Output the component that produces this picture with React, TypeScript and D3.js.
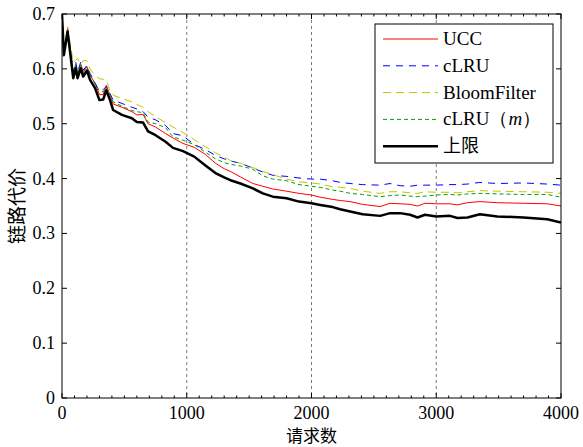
import React from 'react';
import * as d3 from 'd3';

// request counts where the curves were sampled
const requests = [
  0, 15, 45, 90, 110, 125, 150, 170, 200, 225, 265, 300, 330, 355, 385, 410, 480, 560, 600, 650,
  690, 750, 830, 890, 970, 1060, 1150, 1230, 1300, 1350, 1430, 1530, 1610, 1690, 1800, 1900, 2000,
  2070, 2170, 2230, 2310, 2410, 2550, 2630, 2710, 2790, 2850, 2910, 3000, 3110, 3170, 3250, 3350,
  3490, 3700, 3890, 4000,
];

const ucc = [
  0.70, 0.63, 0.674, 0.59, 0.608, 0.59, 0.608, 0.593, 0.604, 0.588, 0.574, 0.553, 0.553, 0.57, 0.552,
  0.536, 0.530, 0.522, 0.516, 0.517, 0.500, 0.494, 0.482, 0.474, 0.464, 0.457, 0.444, 0.428, 0.418,
  0.413, 0.403, 0.391, 0.386, 0.381, 0.377, 0.373, 0.370, 0.366, 0.362, 0.360, 0.358, 0.353, 0.349,
  0.355, 0.354, 0.353, 0.350, 0.355, 0.354, 0.354, 0.352, 0.356, 0.358, 0.356, 0.355, 0.354, 0.350,
];

const clru = [
  0.70, 0.63, 0.675, 0.595, 0.612, 0.595, 0.612, 0.598, 0.606, 0.592, 0.574, 0.56, 0.562, 0.568, 0.555,
  0.543, 0.537, 0.530, 0.527, 0.522, 0.512, 0.507, 0.497, 0.482, 0.478, 0.462, 0.453, 0.442, 0.436,
  0.432, 0.428, 0.419, 0.412, 0.406, 0.404, 0.401, 0.399, 0.399, 0.396, 0.393, 0.391, 0.389, 0.388,
  0.391, 0.387, 0.386, 0.388, 0.388, 0.388, 0.389, 0.389, 0.390, 0.393, 0.391, 0.392, 0.390, 0.388,
];

const bloom = [
  0.70, 0.64, 0.677, 0.612, 0.616, 0.619, 0.608, 0.615, 0.615, 0.600, 0.588, 0.582, 0.581, 0.580, 0.560,
  0.552, 0.546, 0.540, 0.535, 0.530, 0.522, 0.513, 0.502, 0.494, 0.484, 0.471, 0.458, 0.447, 0.439,
  0.433, 0.428, 0.420, 0.413, 0.407, 0.399, 0.394, 0.392, 0.390, 0.385, 0.384, 0.382, 0.377, 0.373,
  0.376, 0.376, 0.374, 0.373, 0.376, 0.375, 0.375, 0.374, 0.376, 0.378, 0.377, 0.376, 0.375, 0.373,
];

const clruM = [
  0.70, 0.63, 0.672, 0.592, 0.608, 0.592, 0.608, 0.596, 0.603, 0.590, 0.572, 0.560, 0.558, 0.566, 0.552,
  0.540, 0.532, 0.524, 0.522, 0.520, 0.503, 0.500, 0.493, 0.476, 0.470, 0.462, 0.448, 0.436, 0.429,
  0.426, 0.423, 0.417, 0.405, 0.399, 0.396, 0.389, 0.386, 0.384, 0.379, 0.377, 0.373, 0.371, 0.367,
  0.369, 0.370, 0.368, 0.367, 0.368, 0.370, 0.371, 0.370, 0.372, 0.373, 0.372, 0.371, 0.371, 0.366,
];

const upper = [
  0.70, 0.625, 0.668, 0.583, 0.601, 0.583, 0.601, 0.586, 0.597, 0.580, 0.565, 0.543, 0.544, 0.561, 0.543,
  0.525, 0.516, 0.510, 0.503, 0.502, 0.486, 0.479, 0.467, 0.456, 0.450, 0.440, 0.424, 0.410, 0.402,
  0.397, 0.391, 0.382, 0.373, 0.367, 0.364, 0.358, 0.355, 0.352, 0.348, 0.344, 0.340, 0.335, 0.332,
  0.337, 0.337, 0.334, 0.329, 0.334, 0.331, 0.332, 0.328, 0.329, 0.335, 0.331, 0.329, 0.326, 0.320,
];

const xTicks = [0, 1000, 2000, 3000, 4000];
const yTicks = [0, 0.1, 0.2, 0.3, 0.4, 0.5, 0.6, 0.7];

const series = [
  { name: 'UCC', values: ucc, color: '#ff0000', width: 1, dash: null },
  { name: 'cLRU', values: clru, color: '#0000ff', width: 1, dash: '7,6' },
  { name: 'BloomFilter', values: bloom, color: '#c4c400', width: 1, dash: '8,5' },
  { name: 'cLRU(m)', values: clruM, color: '#00a000', width: 1, dash: '4,3' },
  { name: '上限', values: upper, color: '#000000', width: 2.5, dash: null },
];

const W = 583;
const H = 447;
const margin = { left: 62, right: 22, top: 14, bottom: 49 };
const serif = 'Liberation Serif';
const cjk = 'Noto Sans CJK SC';

export default function App() {
  const x = d3.scaleLinear().domain([0, 4000]).range([margin.left, W - margin.right]);
  const y = d3.scaleLinear().domain([0, 0.7]).range([H - margin.bottom, margin.top]);
  const [x0, x1] = x.range();
  const [y0, y1] = y.range();

  const minorX = d3.range(0, 4001, 100).filter(v => v % 1000 !== 0);

  const lineFor = (vals: number[]) =>
    d3.line<number>()
      .x((_, i) => x(requests[i]))
      .y(v => y(v))(vals) || '';

  const legX = 375;
  const legY = 24;
  const legW = 178;
  const legH = 139;
  const rowH = 26.8;

  return (
    <svg width={W} height={H} style={{ position: 'absolute', left: 0, top: 0, background: '#fff' }}>
      <defs>
        <clipPath id="plot">
          <rect x={x0} y={y1} width={x1 - x0} height={y0 - y1} />
        </clipPath>
      </defs>

      {/* dashed vertical guides */}
      {xTicks.slice(1, -1).map(t => (
        <line key={'g' + t} x1={x(t)} x2={x(t)} y1={y1} y2={y0}
          stroke="#555" strokeWidth={0.8} strokeDasharray="3,3" />
      ))}

      {/* ticks */}
      {minorX.map(t => (
        <g key={'m' + t}>
          <line x1={x(t)} x2={x(t)} y1={y0} y2={y0 - 2.5} stroke="#000" strokeWidth={1} />
          <line x1={x(t)} x2={x(t)} y1={y1} y2={y1 + 2.5} stroke="#000" strokeWidth={1} />
        </g>
      ))}
      {xTicks.map(t => (
        <g key={'x' + t}>
          <line x1={x(t)} x2={x(t)} y1={y0} y2={y0 - 5} stroke="#000" />
          <line x1={x(t)} x2={x(t)} y1={y1} y2={y1 + 5} stroke="#000" />
          <text x={x(t)} y={y0 + 21} textAnchor="middle" fontFamily={serif} fontSize={18}>{t}</text>
        </g>
      ))}
      {yTicks.map(t => (
        <g key={'y' + t}>
          <line x1={x0} x2={x0 + 5} y1={y(t)} y2={y(t)} stroke="#000" />
          <line x1={x1} x2={x1 - 5} y1={y(t)} y2={y(t)} stroke="#000" />
          <text x={x0 - 7} y={y(t) + 6} textAnchor="end" fontFamily={serif} fontSize={18}>{t}</text>
        </g>
      ))}

      <g clipPath="url(#plot)">
        {series.map(s => (
          <path key={s.name} d={lineFor(s.values)} fill="none" stroke={s.color}
            strokeWidth={s.width} strokeDasharray={s.dash || undefined} strokeLinejoin="round" />
        ))}
      </g>

      <rect x={x0} y={y1} width={x1 - x0} height={y0 - y1} fill="none" stroke="#000" strokeWidth={1} />

      {/* legend */}
      <rect x={legX} y={legY} width={legW} height={legH} fill="#fff" stroke="#000" strokeWidth={1} />
      {series.map((s, i) => {
        const ry = legY + 15 + i * rowH;
        return (
          <g key={'l' + s.name}>
            <line x1={legX + 8} x2={legX + 63} y1={ry} y2={ry} stroke={s.color}
              strokeWidth={s.width} strokeDasharray={s.dash || undefined} />
            {s.name === 'cLRU(m)' ? (
              <text x={legX + 68} y={ry + 6} fontFamily={serif} fontSize={19}>
                cLRU（<tspan fontStyle="italic">m</tspan>）
              </text>
            ) : (
              <text x={legX + 68} y={ry + 6} fontFamily={s.name === '上限' ? cjk : serif}
                fontSize={s.name === '上限' ? 18 : 19}>{s.name}</text>
            )}
          </g>
        );
      })}

      {/* axis titles */}
      <text x={(x0 + x1) / 2} y={H - 5} textAnchor="middle" fontFamily={cjk} fontSize={17}>请求数</text>
      <text transform={`translate(24,${(y0 + y1) / 2}) rotate(-90)`} textAnchor="middle"
        fontFamily={cjk} fontSize={19}>链路代价</text>
    </svg>
  );
}
